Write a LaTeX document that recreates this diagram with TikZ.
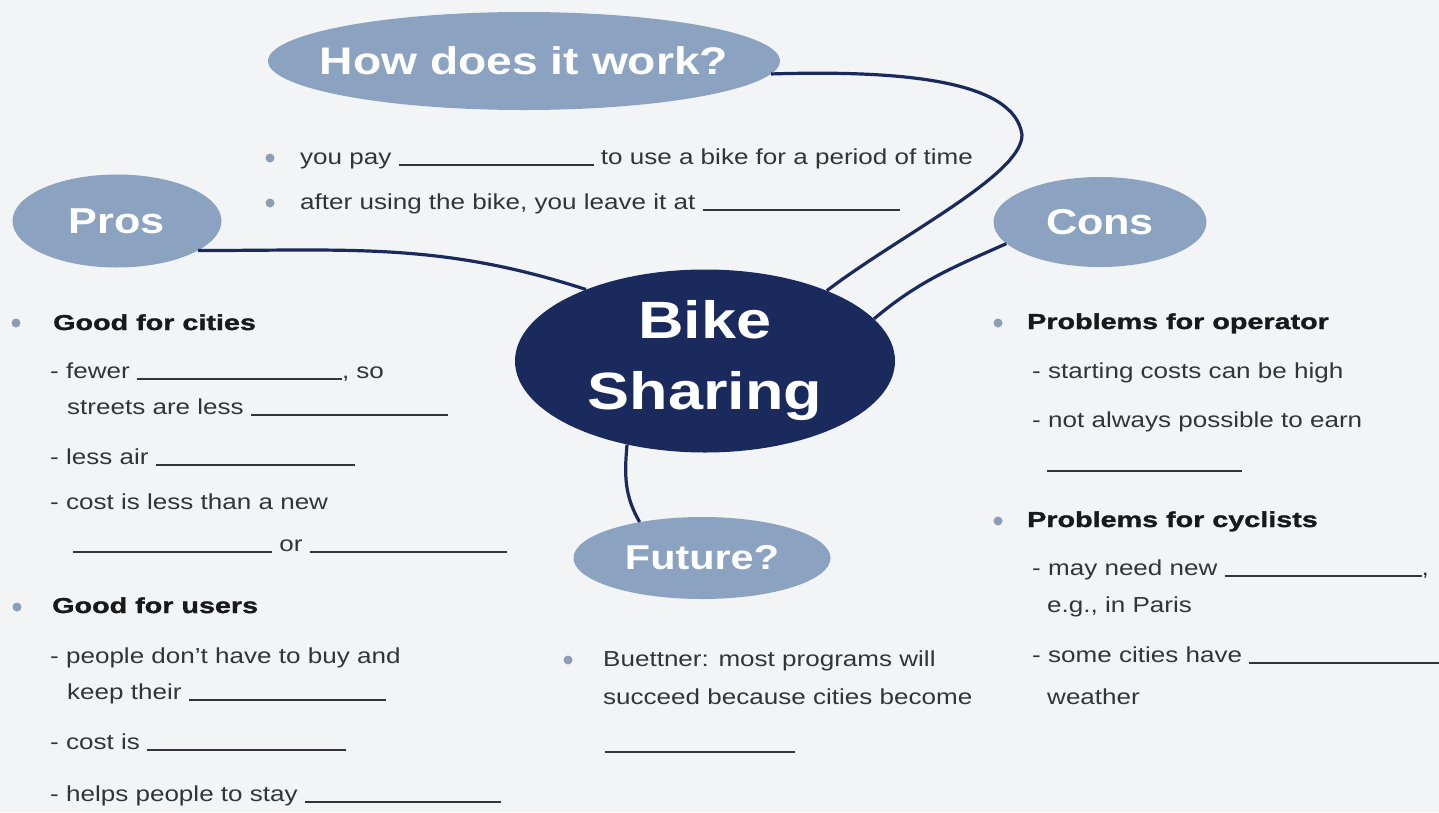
\documentclass[tikz,border=0pt]{standalone}
\usepackage{fontspec}
\setmainfont{Liberation Sans}[FakeStretch=1.2]
\newfontfamily\headfont{Liberation Sans}[FakeStretch=1.33, BoldFeatures={FakeBold=1.4}]
\usetikzlibrary{positioning,shapes.geometric}

\definecolor{navy}{RGB}{26,42,92}
\definecolor{bubblefill}{RGB}{139,162,192}
\definecolor{dotblue}{RGB}{140,158,182}
\definecolor{ink}{RGB}{52,52,56}
\definecolor{paper}{RGB}{243,244,246}

% blank line to fill in (width in pt)
\newcommand{\gap}[1]{\rule[-1.5pt]{#1pt}{1.6pt}}

\begin{document}
\begin{tikzpicture}[
	x=1pt, y=-1pt,
	bubble/.style={            % light topic bubbles
		ellipse, fill=bubblefill, text=white,
		inner xsep=-60pt, inner ysep=0pt,
		font=\fontsize{#1}{#1}\selectfont\bfseries
	},
	hub/.style={               % dark centre bubble
		ellipse, fill=navy, text=white,
		inner sep=0pt, align=center,
		font=\fontsize{52.5}{71}\selectfont\bfseries
	},
	link/.style={draw=navy, line width=3.2pt},
	dot/.style={circle, fill=dotblue, inner sep=0pt, minimum size=9pt},
	txt/.style={anchor=base west, inner sep=0pt, text=ink,
		font=\fontsize{21.7}{26}\selectfont},
	head/.style={anchor=base west, inner sep=0pt, text=black!90,
		font=\headfont\fontsize{21.6}{26}\selectfont\bfseries}
	]
	\fill[paper] (0,0) rectangle (1439,812);
	\useasboundingbox (0,0) rectangle (1439,812);
	
	% --- BUBBLES ---
	\node[hub, minimum width=380pt, minimum height=183pt] (bike) at (705,361) {Bike\\Sharing};
	\node[bubble=38.5, minimum width=512pt, minimum height=98pt] (how) at (524,61) {How does it work?};
	\node[bubble=36, minimum width=209pt, minimum height=93pt] (pros) at (117,221) {Pros};
	\node[bubble=36, minimum width=213pt, minimum height=90pt] (cons) at (1100,222) {Cons};
	\node[bubble=34.5, minimum width=257pt, minimum height=82pt] (future) at (702,558) {Future?};
	
	% --- LINKS ---
	\coordinate (hturn) at (1022,135);
	\draw[link] (how.-3) .. controls (900,70) and (1015,80) .. (hturn)
		.. controls (1022,175) and (900,235) .. (bike.30);
	\draw[link] (pros.-20) to[out=0, in=162] (bike.149);
	\draw[link] (cons.193) to[out=204, in=40] (bike.14);
	\draw[link] (bike.-133) to[out=-95, in=120] (future.150);
	
	% bullets
	\foreach \n/\px/\py in {hw1/270/158, hw2/270/203, pc/16/323, pu/17/607,
		fu/568/660, co/998/323, cc/998/521} {
		\node[dot] (dot-\n) at (\px,\py) {};
	}
	
	% --- HOW DOES IT WORK ---
	\node[txt] (hw1) at (300,164) {you pay \gap{195} to use a bike for a period of time};
	\node[txt] (hw2) at (300,209) {after using the bike, you leave it at \gap{197}};
	
	% --- PROS ---
	\node[head] (pc) at (53,330) {Good for cities};
	\node[txt] (pc1) at (50,378) {- fewer \gap{205}, so};
	\node[txt] (pc2) at (67,414) {streets are less \gap{197}};
	\node[txt] (pc3) at (50,464) {- less air \gap{199}};
	\node[txt] (pc4) at (50,509) {- cost is less than a new};
	\node[txt] (pc5) at (73,551) {\gap{199} or \gap{197}};
	\node[head] (pu) at (52,613) {Good for users};
	\node[txt] (pu1) at (50,663) {- people don't have to buy and};
	\node[txt] (pu2) at (67,699) {keep their \gap{197}};
	\node[txt] (pu3) at (50,749) {- cost is \gap{199}};
	\node[txt] (pu4) at (50,801) {- helps people to stay \gap{196}};
	
	% --- FUTURE ---
	\node[txt] (fu1) at (603,666) {Buettner: most programs will};
	\node[txt] (fu2) at (603,704) {succeed because cities become};
	\node[txt] (fu3) at (605,751) {\gap{190}};
	
	% --- CONS ---
	\node[head] (co) at (1027,329) {Problems for operator};
	\node[txt] (co1) at (1032,378) {- starting costs can be high};
	\node[txt] (co2) at (1032,427) {- not always possible to earn};
	\node[txt] (co3) at (1047,470) {\gap{195}};
	\node[head] (cc) at (1027,527) {Problems for cyclists};
	\node[txt] (cc1) at (1032,575) {- may need new \gap{197},};
	\node[txt] (cc2) at (1047,612) {e.g., in Paris};
	\node[txt] (cc3) at (1032,662) {- some cities have \gap{210}};
	\node[txt] (cc4) at (1047,704) {weather};
	
\end{tikzpicture}
\end{document}
